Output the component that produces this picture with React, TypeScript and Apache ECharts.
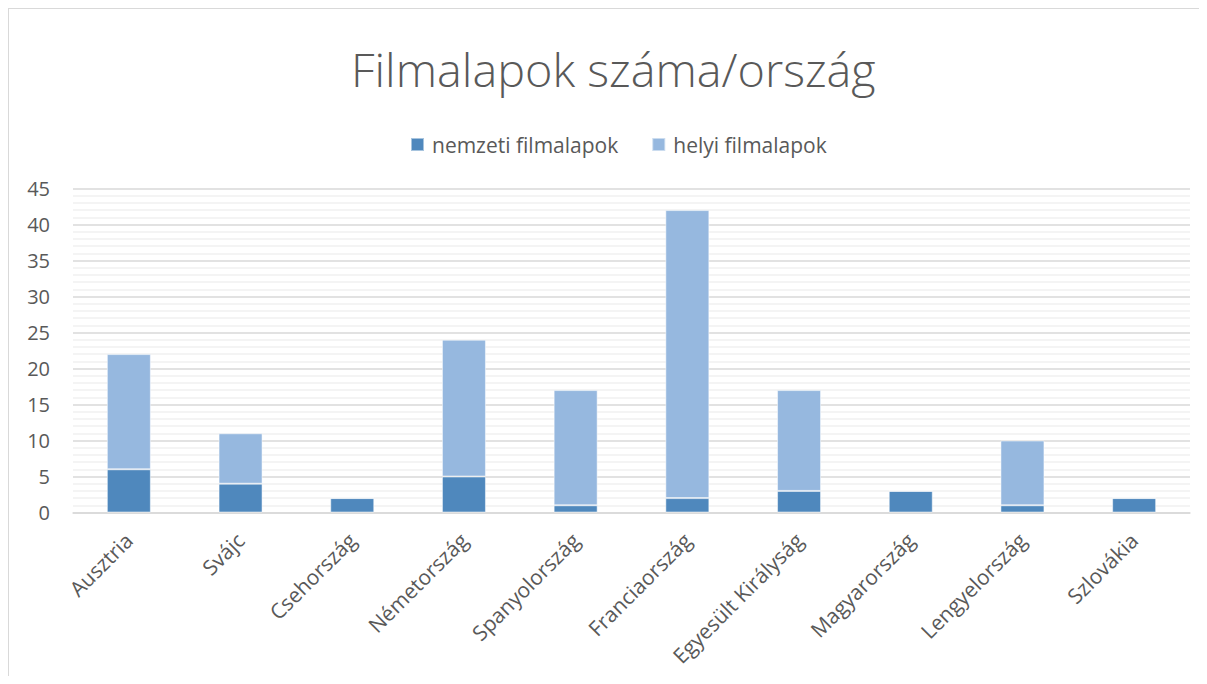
import React, { useEffect, useRef } from "react";
import * as echarts from "echarts";

const categories = [
  "Ausztria",
  "Svájc",
  "Csehország",
  "Németország",
  "Spanyolország",
  "Franciaország",
  "Egyesült Királyság",
  "Magyarország",
  "Lengyelország",
  "Szlovákia",
];
const nemzeti = [6, 4, 2, 5, 1, 2, 3, 3, 1, 2];
const helyi = [16, 7, 0, 19, 16, 40, 14, 0, 9, 0];
const seriesNames = ["nemzeti filmalapok", "helyi filmalapok"];
const titleText = "Filmalapok száma/ország";

export default function App() {
  const ref = useRef<HTMLDivElement>(null);
  useEffect(() => {
    const chart = echarts.init(ref.current!, null, { renderer: "svg" });
    const font = "'Open Sans', sans-serif";
    chart.setOption({
      animation: false,
      title: {
        text: titleText,
        left: 337,
        top: 31,
        textStyle: { fontFamily: font, fontSize: 46.8, fontWeight: 300, color: "#595959" },
      },
      legend: {
        data: seriesNames,
        left: 396,
        top: 120,
        itemWidth: 13,
        itemHeight: 13,
        itemGap: 33,
        icon: "rect",
        textStyle: { fontFamily: font, fontSize: 21, color: "#595959", padding: [0, 0, 0, 3] },
      },
      grid: { left: 64, right: 9, top: 179.5, bottom: 162.5, containLabel: false },
      xAxis: {
        type: "category",
        data: categories,
        axisTick: { show: false },
        axisLine: { lineStyle: { color: "#d9d9d9", width: 1.5 } },
        axisLabel: {
          rotate: 45,
          interval: 0,
          margin: 24,
          fontFamily: font,
          fontSize: 21,
          color: "#595959",
        },
      },
      yAxis: {
        type: "value",
        min: 0,
        max: 45,
        interval: 5,
        axisLine: { show: false },
        axisTick: { show: false },
        axisLabel: { margin: 23, fontFamily: font, fontSize: 20, color: "#595959" },
        splitLine: { lineStyle: { color: "#d9d9d9", width: 1.5 } },
        minorTick: { show: false, splitNumber: 5 },
        minorSplitLine: { show: true, lineStyle: { color: "#f0f0f0", width: 1.5 } },
      },
      series: [
        {
          name: seriesNames[0],
          type: "bar",
          stack: "total",
          data: nemzeti,
          barWidth: 44,
          itemStyle: { color: "#4f88bd", borderColor: "rgba(255,255,255,0.5)", borderWidth: 1 },
        },
        {
          name: seriesNames[1],
          type: "bar",
          stack: "total",
          data: helyi,
          barWidth: 44,
          itemStyle: { color: "#96b8df", borderColor: "rgba(255,255,255,0.5)", borderWidth: 1 },
        },
      ],
    });
    return () => chart.dispose();
  }, []);
  return (
    <>
      <style>{"html,body{overflow:hidden}"}</style>
      <div
        style={{
          width: 1199,
          height: 668,
          borderTop: "1.5px solid #d9d9d9",
          borderLeft: "1.5px solid #d9d9d9",
          boxSizing: "border-box",
          background: "#fff",
          overflow: "hidden",
        }}
      >
        <div ref={ref} style={{ width: 1190, height: 666 }} />
      </div>
    </>
  );
}
